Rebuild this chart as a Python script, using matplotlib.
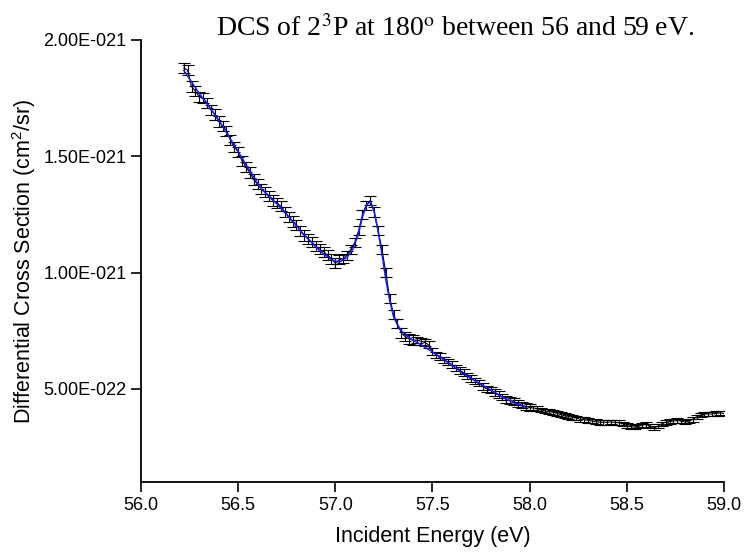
import numpy as np
import matplotlib
matplotlib.use('Agg')
import matplotlib.pyplot as plt
from matplotlib.ticker import FuncFormatter

plt.rcParams['font.family'] = ['Liberation Sans', 'DejaVu Sans']
plt.rcParams['mathtext.fontset'] = 'custom'
plt.rcParams['mathtext.rm'] = 'Liberation Sans'

# Measured DCS points (units of 1e-21 cm^2/sr)
energy = [56.22, 56.24, 56.26, 56.28, 56.30, 56.32, 56.34, 56.36, 56.38, 56.40,
          56.42, 56.44, 56.46, 56.48, 56.50, 56.52, 56.54, 56.56, 56.58, 56.60,
          56.62, 56.64, 56.66, 56.68, 56.70, 56.72, 56.74, 56.76, 56.78, 56.80,
          56.82, 56.84, 56.86, 56.88, 56.90, 56.92, 56.94, 56.96, 56.98, 57.00,
          57.02, 57.04, 57.06, 57.08, 57.10, 57.12, 57.14, 57.16, 57.18, 57.20,
          57.22, 57.24, 57.26, 57.28, 57.30, 57.32, 57.34, 57.36, 57.38, 57.40,
          57.42, 57.44, 57.46, 57.48, 57.50, 57.52, 57.54, 57.56, 57.58, 57.60,
          57.62, 57.64, 57.66, 57.68, 57.70, 57.72, 57.74, 57.76, 57.78, 57.80,
          57.82, 57.84, 57.86, 57.88, 57.90, 57.92, 57.94, 57.96, 57.98, 58.00,
          58.02, 58.04, 58.06, 58.08, 58.10, 58.12, 58.14, 58.16, 58.18, 58.20,
          58.22, 58.24, 58.26, 58.28, 58.30, 58.32, 58.34, 58.36, 58.38, 58.40,
          58.42, 58.44, 58.46, 58.48, 58.50, 58.52, 58.54, 58.56, 58.58, 58.60,
          58.62, 58.64, 58.66, 58.68, 58.70, 58.72, 58.74, 58.76, 58.78, 58.80,
          58.82, 58.84, 58.86, 58.88, 58.90, 58.92, 58.94, 58.96, 58.98, 59.00]
dcs = [1.88, 1.87, 1.80, 1.78, 1.755, 1.75, 1.73, 1.70, 1.68, 1.65,
       1.63, 1.61, 1.57, 1.54, 1.52, 1.48, 1.455, 1.43, 1.40, 1.38,
       1.36, 1.345, 1.33, 1.31, 1.30, 1.285, 1.26, 1.24, 1.22, 1.205,
       1.18, 1.16, 1.145, 1.13, 1.115, 1.10, 1.09, 1.075, 1.06, 1.04,
       1.055, 1.06, 1.075, 1.10, 1.13, 1.18, 1.25, 1.29, 1.31, 1.26,
       1.18, 1.10, 1.00, 0.89, 0.82, 0.78, 0.74, 0.725, 0.715, 0.71,
       0.71, 0.705, 0.70, 0.69, 0.66, 0.645, 0.64, 0.625, 0.615, 0.605,
       0.59, 0.58, 0.57, 0.555, 0.545, 0.535, 0.525, 0.51, 0.50, 0.495,
       0.485, 0.475, 0.465, 0.455, 0.45, 0.445, 0.438, 0.43, 0.425, 0.42,
       0.418, 0.415, 0.41, 0.405, 0.403, 0.40, 0.395, 0.39, 0.385, 0.382,
       0.378, 0.375, 0.37, 0.368, 0.365, 0.362, 0.36, 0.357, 0.356, 0.357,
       0.358, 0.356, 0.355, 0.35, 0.342, 0.338, 0.336, 0.34, 0.345, 0.347,
       0.34, 0.332, 0.34, 0.35, 0.357, 0.36, 0.362, 0.365, 0.362, 0.358,
       0.362, 0.37, 0.38, 0.388, 0.392, 0.393, 0.392, 0.395, 0.397, 0.395]
err = ([0.022] * 40) + ([0.02] * 20) + ([0.014] * 30) + ([0.01] * 50)

# Fitted curve (blue)
fit_energy = [56.22, 56.26, 56.30, 56.34, 56.38, 56.42, 56.46, 56.50, 56.54, 56.58,
              56.62, 56.66, 56.70, 56.74, 56.78, 56.82, 56.86, 56.90, 56.94, 56.98,
              57.02, 57.06, 57.09, 57.12, 57.14, 57.16, 57.18, 57.20, 57.22, 57.24,
              57.26, 57.28, 57.30, 57.32, 57.34, 57.38, 57.42, 57.46, 57.50, 57.56,
              57.62, 57.68, 57.74, 57.80, 57.86, 57.92, 57.98]
fit_dcs = [1.87, 1.82, 1.77, 1.725, 1.68, 1.63, 1.575, 1.52, 1.465, 1.41,
           1.36, 1.325, 1.295, 1.26, 1.22, 1.18, 1.145, 1.11, 1.08, 1.055,
           1.045, 1.065, 1.10, 1.17, 1.24, 1.29, 1.305, 1.265, 1.18, 1.08,
           0.97, 0.88, 0.81, 0.775, 0.75, 0.72, 0.70, 0.68, 0.66, 0.625,
           0.59, 0.555, 0.525, 0.495, 0.465, 0.44, 0.42]

scale = 1e-21
y = np.array(dcs) * scale
yerr = np.array(err) * scale
yfit = np.array(fit_dcs) * scale


def sci_fmt(v, pos):
    if v == 0:
        return '0'
    e = int(np.floor(np.log10(abs(v)) + 1e-9))
    m = v / 10 ** e
    sign = '-' if e < 0 else '+'
    return '%.2fE%s%03d' % (m, sign, abs(e))


fig = plt.figure(figsize=(7.44, 5.53), dpi=100)
ax = fig.add_axes([0.1895, 0.1284, 0.7835, 0.7993])

ax.errorbar(energy, y, yerr=yerr, color='black', lw=0.8, elinewidth=0.8,
            capsize=4, capthick=0.8)
ax.plot(fit_energy, yfit, color='#1a1aff', lw=1.1, zorder=5)

ax.set_xlim(56.0, 59.0)
ax.set_ylim(1e-22, 2e-21)
ax.set_xticks([56.0, 56.5, 57.0, 57.5, 58.0, 58.5, 59.0])
ax.xaxis.set_major_formatter(FuncFormatter(lambda v, p: '%.1f' % v))
ax.set_yticks([5e-22, 1e-21, 1.5e-21, 2e-21])
ax.yaxis.set_major_formatter(FuncFormatter(sci_fmt))

for s in ['top', 'right']:
    ax.spines[s].set_visible(False)
for s in ['left', 'bottom']:
    ax.spines[s].set_linewidth(1.3)
ax.tick_params(direction='out', length=7, width=1.2, labelsize=13)

ax.set_xlabel('Incident Energy (eV)', fontsize=15.5, labelpad=9)
ax.set_ylabel('Differential Cross Section (cm$^2$/sr)', fontsize=15.5, labelpad=4)

fig.text(0.612, 0.935, 'DCS of 2$^{\\mathrm{3}}$P at 180$^{\\mathrm{o}}$ between 56 and 59 eV.',
         ha='center', va='baseline', fontsize=20, family='Liberation Serif',
         math_fontfamily='stix')

fig.savefig('out.png', dpi=100)
